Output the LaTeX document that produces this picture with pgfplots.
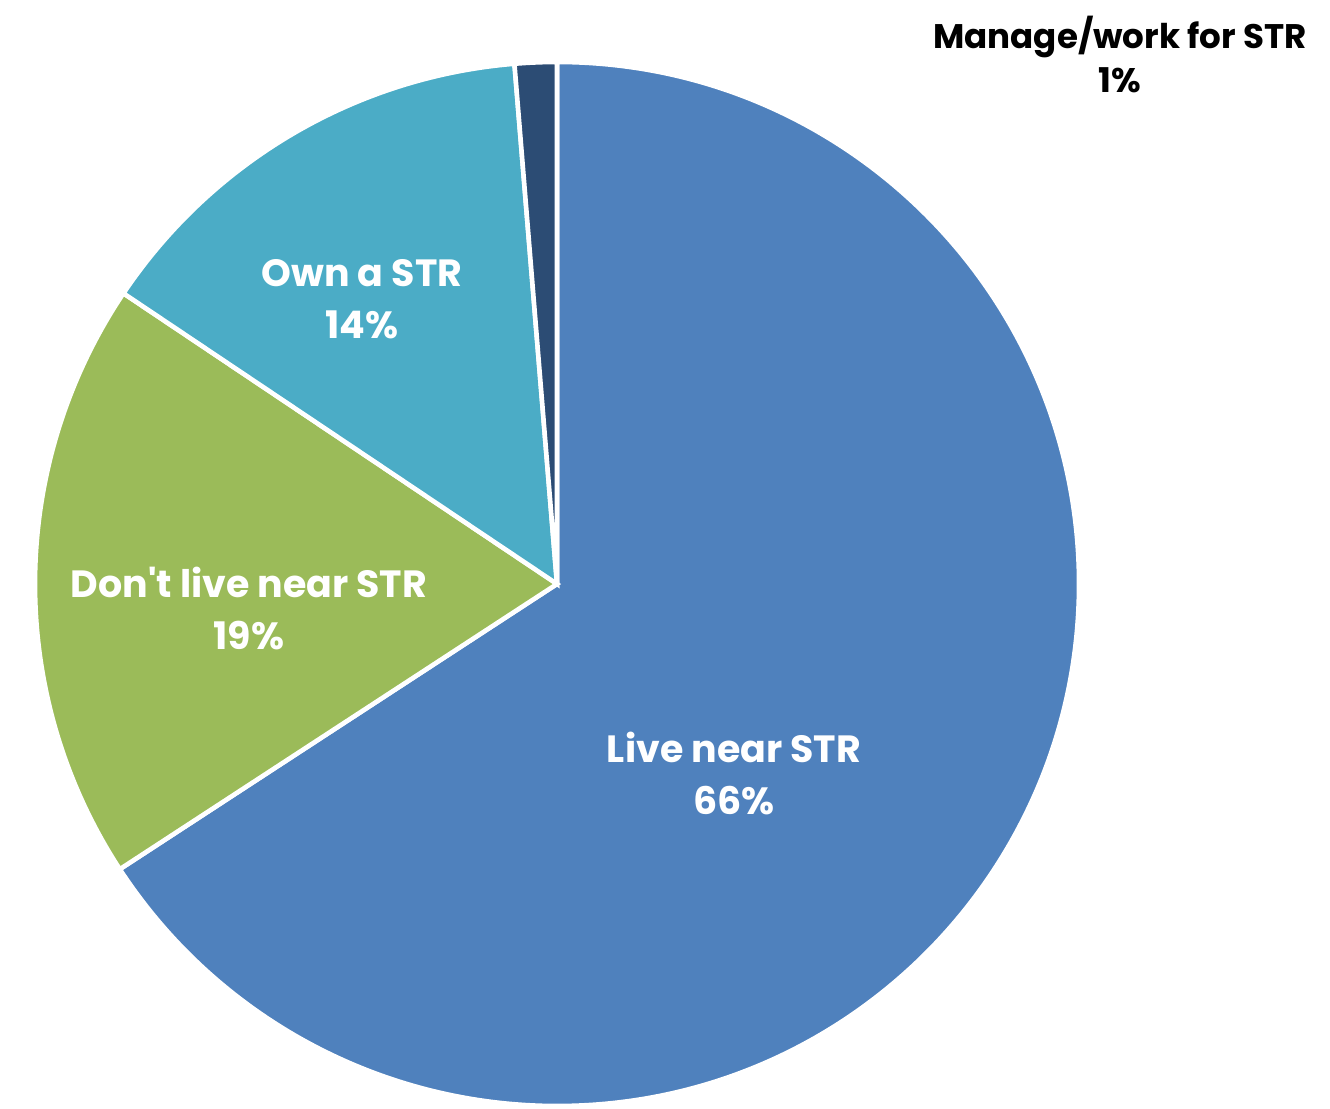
\documentclass[border=0pt]{standalone}
\usepackage{pgfplots}
\pgfplotsset{compat=1.18}
\usepackage{fontspec}
\setmainfont{Poppins}
\definecolor{cLive}{HTML}{4F81BD}
\definecolor{cDont}{HTML}{9BBB59}
\definecolor{cOwn}{HTML}{4BACC6}
\definecolor{cMan}{HTML}{2C4C74}
\begin{document}
\begin{tikzpicture}
\begin{axis}[
  width=13.3cm, height=11.08cm, scale only axis,
  xmin=0, xmax=1330, ymin=0, ymax=1108,
  hide axis, clip=false,
]
\path (axis cs:0,0) rectangle (axis cs:1330,1108);
% values (percent), clockwise from 12 o'clock
\def\R{52.2mm}
\fill[cLive, draw=white, line width=1.3pt] (axis cs:557,524) -- ++(90:\R) arc[start angle=90, end angle={90-65.8*3.6}, radius=\R] -- cycle;
\fill[cDont, draw=white, line width=1.3pt] (axis cs:557,524) -- ++({90-65.8*3.6}:\R) arc[start angle={90-65.8*3.6}, end angle={90-(65.8+18.6)*3.6}, radius=\R] -- cycle;
\fill[cOwn, draw=white, line width=1.3pt] (axis cs:557,524) -- ++({90-(65.8+18.6)*3.6}:\R) arc[start angle={90-(65.8+18.6)*3.6}, end angle={90-(65.8+18.6+14.3)*3.6}, radius=\R] -- cycle;
\fill[cMan, draw=white, line width=1.3pt] (axis cs:557,524) -- ++({90-(65.8+18.6+14.3)*3.6}:\R) arc[start angle={90-(65.8+18.6+14.3)*3.6}, end angle={90-100*3.6}, radius=\R] -- cycle;
\node[white, align=center, font=\fontsize{10.8}{14.8}\selectfont\bfseries] at (axis cs:734,334) {Live near STR\\66\%};
\node[white, align=center, font=\fontsize{10.8}{14.8}\selectfont\bfseries] at (axis cs:249,499) {Don\textquotesingle t live near STR\\19\%};
\node[white, align=center, font=\fontsize{10.8}{14.8}\selectfont\bfseries] at (axis cs:362,809) {Own a STR\\14\%};
\node[black, align=center, font=\fontsize{9.7}{12.8}\selectfont\bfseries] at (axis cs:1120,1053.5) {Manage/work for STR\\1\%};
\end{axis}
\end{tikzpicture}
\end{document}
